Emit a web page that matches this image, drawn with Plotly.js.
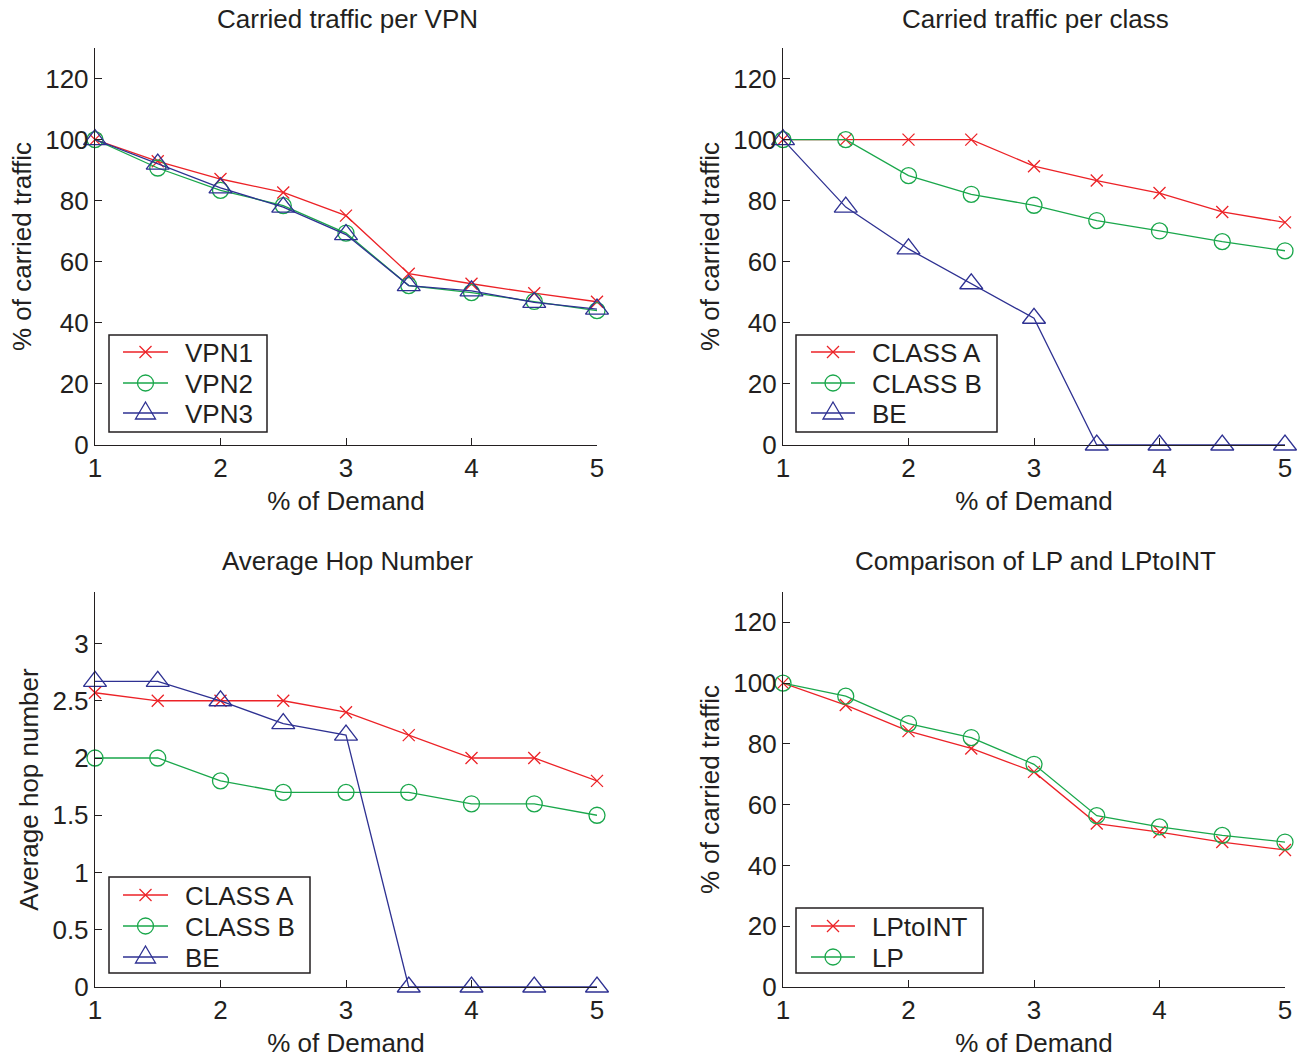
<!DOCTYPE html>
<html>
<head>
<meta charset="utf-8">
<script src="https://cdn.plot.ly/plotly-3.0.1.min.js"></script>
<style>
  html, body { margin: 0; padding: 0; background: #fff; }
  #chart { width: 1303px; height: 1059px; }
</style>
</head>
<body>
<div id="chart"></div>
<script>
// Demand levels (x) shared by every panel
const demand = [1, 1.5, 2, 2.5, 3, 3.5, 4, 4.5, 5];

// Carried traffic per VPN (%)
const vpn1 = [100, 92.9, 87.1, 82.7, 75.1, 56.1, 52.8, 49.7, 46.9];
const vpn2 = [100, 90.7, 83.4, 78.4, 69.4, 52.2, 49.9, 47.0, 44.0];
const vpn3 = [100, 92.0, 84.2, 77.9, 68.9, 52.2, 50.5, 46.7, 44.5];

// Carried traffic per class (%)
const classA = [100, 100, 100, 100, 91.3, 86.6, 82.5, 76.3, 72.9];
const classB = [100, 100, 88.2, 82.1, 78.5, 73.5, 70.1, 66.6, 63.6];
const classBE = [100, 77.9, 64.2, 52.8, 41.5, 0, 0, 0, 0];

// Average hop number
const hopA = [2.57, 2.5, 2.5, 2.5, 2.4, 2.2, 2.0, 2.0, 1.8];
const hopB = [2.0, 2.0, 1.8, 1.7, 1.7, 1.7, 1.6, 1.6, 1.5];
const hopBE = [2.67, 2.67, 2.5, 2.3, 2.2, 0, 0, 0, 0];

// LP vs LPtoINT (%)
const lpToInt = [100, 92.8, 84.2, 78.5, 70.8, 53.8, 51.0, 47.7, 45.1];
const lp = [100, 95.7, 86.7, 82.1, 73.3, 56.4, 52.7, 49.9, 47.7];

const titles = ['Carried traffic per VPN', 'Carried traffic per class',
                'Average Hop Number', 'Comparison of LP and LPtoINT'];

const RED = '#ec2227', GREEN = '#1aa74b', BLUE = '#2e3192', INK = '#231f20';
const FONT = 'Liberation Sans, Arial, sans-serif';
const FS = 26;
const W = 1303, H = 1059;

const styles = {
  red:   { color: RED,   symbol: 'x-thin-open',      size: 12 },
  green: { color: GREEN, symbol: 'circle-open',      size: 16 },
  blue:  { color: BLUE,  symbol: 'triangle-up-open', size: 20 }
};

function series(y, name, sty, xa, ya) {
  const s = styles[sty];
  return {
    x: demand, y: y, name: name, type: 'scatter', mode: 'lines+markers',
    xaxis: xa, yaxis: ya, showlegend: false, cliponaxis: false,
    line: { color: s.color, width: 1.3 },
    marker: { symbol: s.symbol, size: s.size, color: s.color,
              line: { color: s.color, width: 1.3 } }
  };
}

// Each panel: its traces plus the pixel box of its legend
const panels = [
  { xa: 'x',  ya: 'y',  box: [109, 335, 267, 432], rows: [352, 383, 413], sample: [123, 168], textX: 183,
    items: [[vpn1, 'VPN1', 'red'], [vpn2, 'VPN2', 'green'], [vpn3, 'VPN3', 'blue']] },
  { xa: 'x2', ya: 'y2', box: [796, 335, 997, 432], rows: [352, 383, 413], sample: [811, 855], textX: 870,
    items: [[classA, 'CLASS A', 'red'], [classB, 'CLASS B', 'green'], [classBE, 'BE', 'blue']] },
  { xa: 'x3', ya: 'y3', box: [109, 877, 310, 973], rows: [895, 926, 957], sample: [123, 168], textX: 183,
    items: [[hopA, 'CLASS A', 'red'], [hopB, 'CLASS B', 'green'], [hopBE, 'BE', 'blue']] },
  { xa: 'x4', ya: 'y4', box: [796, 908, 983, 973], rows: [926, 957], sample: [811, 855], textX: 870,
    items: [[lpToInt, 'LPtoINT', 'red'], [lp, 'LP', 'green']] }
];

const traces = [];
panels.forEach(p => p.items.forEach(it => traces.push(series(it[0], it[1], it[2], p.xa, p.ya))));

// Legend boxes drawn as shapes + annotations (pixel positions converted to paper units)
const px = v => v / W, py = v => 1 - v / H;
const shapes = [], annotations = [];

function legendSymbol(sty, cx, cy) {
  const c = styles[sty].color;
  const ln = { color: c, width: 1.3 };
  if (sty === 'red') {
    const r = 6;
    shapes.push({ type: 'line', xref: 'paper', yref: 'paper', x0: px(cx - r), y0: py(cy - r), x1: px(cx + r), y1: py(cy + r), line: ln });
    shapes.push({ type: 'line', xref: 'paper', yref: 'paper', x0: px(cx - r), y0: py(cy + r), x1: px(cx + r), y1: py(cy - r), line: ln });
  } else if (sty === 'green') {
    const r = 8;
    shapes.push({ type: 'circle', xref: 'paper', yref: 'paper', x0: px(cx - r), y0: py(cy + r), x1: px(cx + r), y1: py(cy - r), line: ln, fillcolor: 'rgba(0,0,0,0)' });
  } else {
    const hw = 10, top = cy - 11, base = cy + 6;
    const path = `M ${px(cx)} ${py(top)} L ${px(cx + hw)} ${py(base)} L ${px(cx - hw)} ${py(base)} Z`;
    shapes.push({ type: 'path', xref: 'paper', yref: 'paper', path: path, line: ln, fillcolor: 'rgba(0,0,0,0)' });
  }
}

panels.forEach(p => {
  const [x0, y0, x1, y1] = p.box;
  shapes.push({ type: 'rect', xref: 'paper', yref: 'paper', x0: px(x0), y0: py(y1), x1: px(x1), y1: py(y0),
                line: { color: INK, width: 1.5 }, fillcolor: '#ffffff', layer: 'above' });
  p.items.forEach((it, i) => {
    const cy = p.rows[i], sty = it[2];
    shapes.push({ type: 'line', xref: 'paper', yref: 'paper', x0: px(p.sample[0]), y0: py(cy), x1: px(p.sample[1]), y1: py(cy),
                  line: { color: styles[sty].color, width: 1.3 } });
    legendSymbol(sty, (p.sample[0] + p.sample[1]) / 2, cy);
    annotations.push({ text: it[1], xref: 'paper', yref: 'paper', x: px(p.textX), y: py(cy + 1),
                       xanchor: 'left', yanchor: 'middle', showarrow: false,
                       font: { family: FONT, size: FS, color: INK } });
  });
});

const titlePos = [[347, 19], [1035, 19], [347, 561], [1035, 561]];
titles.forEach((t, i) => annotations.push({
  text: t, xref: 'paper', yref: 'paper',
  x: px(titlePos[i][0]), y: py(titlePos[i][1]),
  xanchor: 'center', yanchor: 'middle', showarrow: false,
  font: { family: FONT, size: FS, color: INK }
}));

const colL = [95 / W, 597 / W], colR = [783 / W, 1285 / W];
const rowT = [1 - 445 / H, 1 - 48 / H], rowB = [1 - 987 / H, 1 - 592 / H];

function xAxis(domain, anchor) {
  return {
    domain: domain, anchor: anchor, range: [1, 5], tickvals: [1, 2, 3, 4, 5],
    showline: true, linecolor: INK, linewidth: 1.2, mirror: false,
    ticks: 'inside', ticklen: 7, tickcolor: INK, showgrid: false, zeroline: false,
    tickfont: { family: FONT, size: FS, color: INK },
    title: { text: '% of Demand', font: { family: FONT, size: FS, color: INK }, standoff: 9 }
  };
}
function yAxis(domain, anchor, range, ticks, label) {
  return {
    domain: domain, anchor: anchor, range: range, tickvals: ticks,
    showline: true, linecolor: INK, linewidth: 1.2, mirror: false,
    ticks: 'inside', ticklen: 7, tickcolor: INK, showgrid: false, zeroline: false,
    tickfont: { family: FONT, size: FS, color: INK },
    title: { text: label, font: { family: FONT, size: FS, color: INK }, standoff: 6 }
  };
}

const pctTicks = [0, 20, 40, 60, 80, 100, 120];
const hopTicks = [0, 0.5, 1, 1.5, 2, 2.5, 3];

const layout = {
  width: W, height: H,
  margin: { l: 0, r: 0, t: 0, b: 0 },
  paper_bgcolor: '#ffffff', plot_bgcolor: '#ffffff',
  showlegend: false,
  font: { family: FONT, size: FS, color: INK },
  xaxis: xAxis(colL, 'y'),
  yaxis: yAxis(rowT, 'x', [0, 130], pctTicks, '% of carried traffic'),
  xaxis2: xAxis(colR, 'y2'),
  yaxis2: yAxis(rowT, 'x2', [0, 130], pctTicks, '% of carried traffic'),
  xaxis3: xAxis(colL, 'y3'),
  yaxis3: yAxis(rowB, 'x3', [0, 3.45], hopTicks, 'Average hop number'),
  xaxis4: xAxis(colR, 'y4'),
  yaxis4: yAxis(rowB, 'x4', [0, 130], pctTicks, '% of carried traffic'),
  shapes: shapes,
  annotations: annotations
};

Plotly.newPlot('chart', traces, layout, { displayModeBar: false, staticPlot: true });
</script>
</body>
</html>
